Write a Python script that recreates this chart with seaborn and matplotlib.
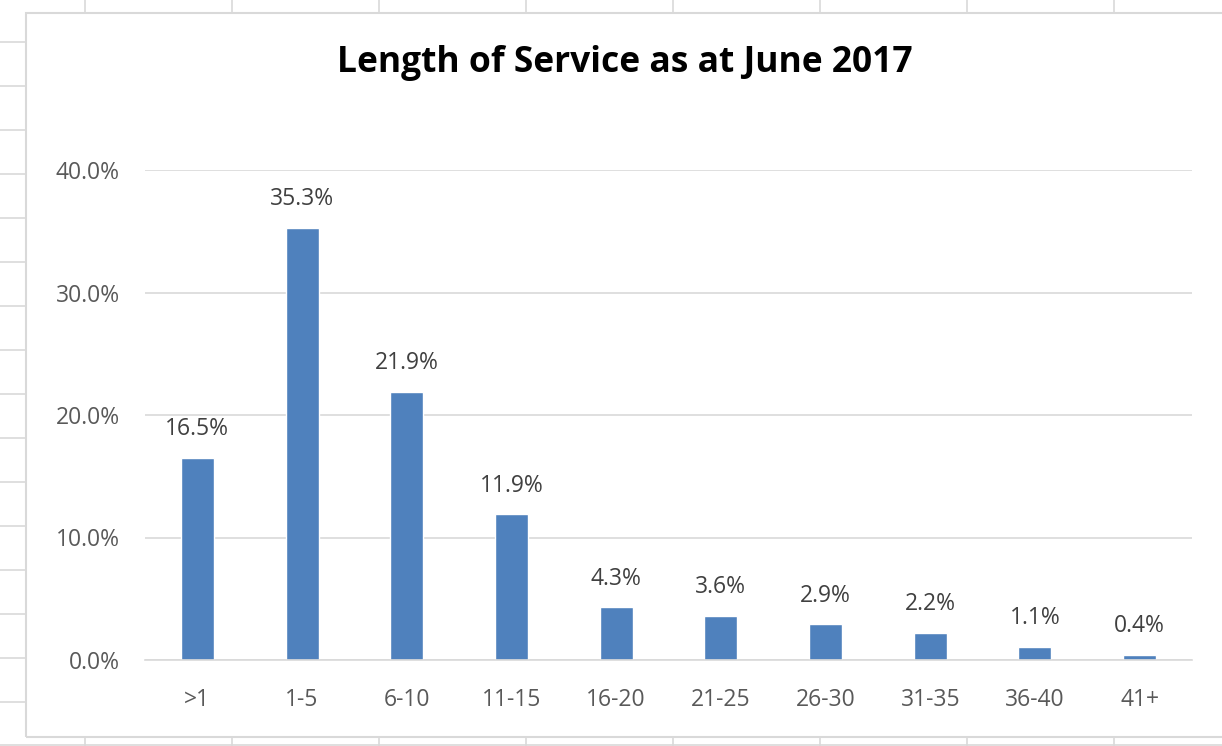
import matplotlib
matplotlib.use("Agg")
import matplotlib.pyplot as plt
import seaborn as sns
import pandas as pd
from matplotlib.lines import Line2D
from matplotlib.patches import Rectangle

categories = [">1", "1-5", "6-10", "11-15", "16-20", "21-25", "26-30", "31-35", "36-40", "41+"]
values = [16.5, 35.3, 21.9, 11.9, 4.3, 3.6, 2.9, 2.2, 1.1, 0.4]
yticks = [0, 10, 20, 30, 40]
title = "Length of Service as at June 2017"

sns.set_theme(style="white")
plt.rcParams["font.family"] = ["Open Sans", "DejaVu Sans"]

W, H = 1222, 746
fig = plt.figure(figsize=(W / 100, H / 100), dpi=100)
fig.patch.set_facecolor("white")

grid_c = "#D9D9D9"
# spreadsheet cell grid behind chart
for y in range(42, 746, 44):
    fig.add_artist(Line2D([0, 26 / W], [1 - y / H, 1 - y / H], color=grid_c, lw=1.2, transform=fig.transFigure))
for x in [85, 232, 379, 526, 673, 820, 967, 1114]:
    fig.add_artist(Line2D([x / W, x / W], [1, 1 - 13 / H], color=grid_c, lw=1.2, transform=fig.transFigure))
    fig.add_artist(Line2D([x / W, x / W], [1 - 737 / H, 0], color=grid_c, lw=1.2, transform=fig.transFigure))
fig.add_artist(Line2D([0, 1], [1 - 745 / H, 1 - 745 / H], color=grid_c, lw=1.2, transform=fig.transFigure))
# chart border
fig.add_artist(Rectangle((26 / W, 1 - 737 / H), (W + 10 - 26) / W, (737 - 13) / H,
                         transform=fig.transFigure, fill=False, edgecolor=grid_c, lw=1.5))

ax = fig.add_axes([145 / W, 1 - 660 / H, (1192 - 145) / W, (660 - 170) / H])
df = pd.DataFrame({"cat": categories, "val": values})
sns.barplot(data=df, x="cat", y="val", color="#4F81BD", saturation=1, width=0.315, ax=ax)
ax.set_xlim(-0.5, 9.5)
ax.set_ylim(0, 40)
ax.set_yticks(yticks)
ax.set_yticklabels([f"{t:.1f}%" for t in yticks])
ax.set_xlabel("")
ax.set_ylabel("")
ax.grid(axis="y", color=grid_c, lw=1.2)
ax.set_axisbelow(True)
for s in ["top", "right", "left"]:
    ax.spines[s].set_visible(False)
ax.spines["bottom"].set_color(grid_c)
ax.spines["bottom"].set_linewidth(1.2)
ax.tick_params(axis="both", length=0, labelsize=16.5, colors="#595959")
ax.tick_params(axis="y", pad=18)
ax.tick_params(axis="x", pad=20)
for i, v in enumerate(values):
    ax.annotate(f"{v:.1f}%", (i, v), xytext=(0, 12), textcoords="offset points",
                ha="center", va="bottom", fontsize=16.5, color="#404040")
fig.text(625 / W, 1 - 63 / H, title, ha="center", va="center", fontsize=25.5, fontweight="bold", color="black")
fig.savefig("out.png", dpi=100, facecolor="white")
